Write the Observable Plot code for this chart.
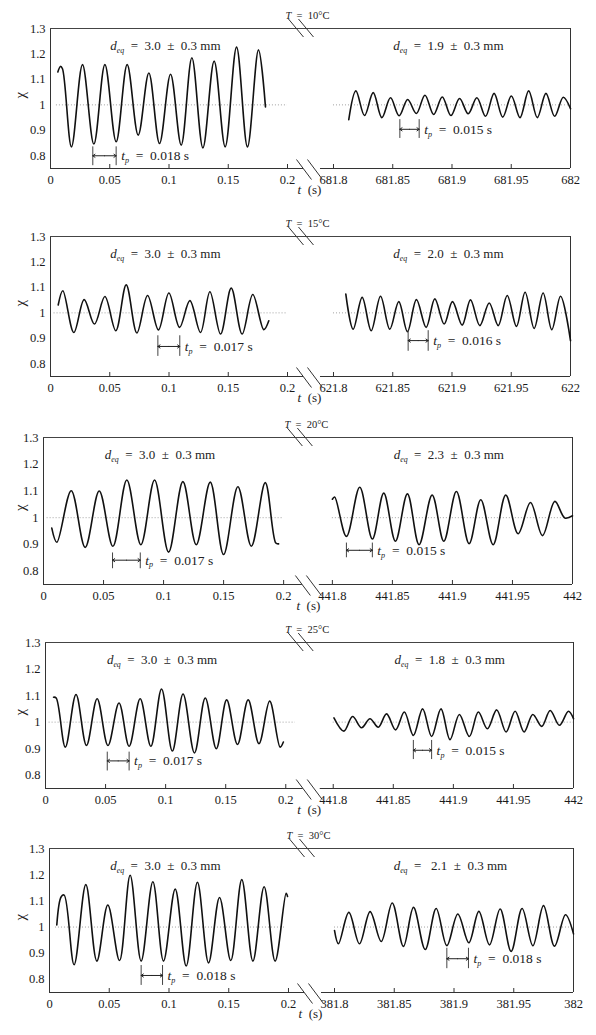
<!DOCTYPE html>
<html><head><meta charset="utf-8">
<script src="https://cdn.jsdelivr.net/npm/d3@7"></script>
<script src="https://cdn.jsdelivr.net/npm/@observablehq/plot@0.6"></script>
<style>
body{margin:0;background:#fff;}
#root{position:relative;width:596px;height:1035px;overflow:hidden;}
.panel{position:absolute;left:0;}
.panel svg, .panel svg text{font-family:'Liberation Serif','Times New Roman',serif;}
</style></head><body><div id="root"></div>
<script>
// ---------- data ----------
const temps = ["10", "15", "20", "25", "30"];
const rightBases = [681.8, 621.8, 441.8, 441.8, 381.8];
const deqLeft = ["3.0", "3.0", "3.0", "3.0", "3.0"];
const deqRight = ["1.9", "2.0", "2.3", "1.8", " 2.1"];
const tpLeft = ["0.018", "0.017", "0.017", "0.017", "0.018"];
const tpRight = ["0.015", "0.016", "0.015", "0.015", "0.018"];
const xTickOffsets = [0, 0.05, 0.1, 0.15, 0.2];
const yTickValues = [0.8, 0.9, 1, 1.1, 1.2, 1.3];

// t_p indicator: [bar1 t, bar2 t, chi low, chi high, arrow chi]
const tpLeftMarks = [
  [0.0357, 0.0554, 0.761, 0.835, 0.800],
  [0.0906, 0.1091, 0.829, 0.910, 0.868],
  [0.0575, 0.0806, 0.809, 0.868, 0.841],
  [0.0514, 0.0696, 0.816, 0.887, 0.854],
  [0.0767, 0.0946, 0.777, 0.853, 0.815]
];
const tpRightMarks = [
  [681.856, 681.8723, 0.868, 0.942, 0.904],
  [621.863, 621.8799, 0.849, 0.930, 0.891],
  [441.8117, 441.8333, 0.850, 0.905, 0.878],
  [441.8667, 441.8819, 0.859, 0.931, 0.894],
  [381.894, 381.9121, 0.841, 0.919, 0.879]
];
// dotted χ = 1 reference on the left segment [t start, t end]
const dotLeft = [[0.005, 0.2], [0.003, 0.2], [0.003, 0.2], [0.003, 0.208], [0.005, 0.197]];

// series [t (s), χ]
const p1Left = [[0.0062,1.129],[0.0084,1.151],[0.0101,1.142],[0.0177,0.835],[0.027,1.158],[0.0366,0.846],[0.0459,1.158],[0.0554,0.855],[0.0647,1.158],[0.074,0.881],[0.083,1.125],[0.092,0.848],[0.1013,1.12],[0.1103,0.842],[0.1193,1.185],[0.1286,0.831],[0.1381,1.172],[0.1474,0.835],[0.157,1.227],[0.1662,0.835],[0.1755,1.216],[0.1814,0.992]];
const p1Right = [[681.8129,0.942],[681.8189,1.055],[681.8262,0.958],[681.8335,1.048],[681.8408,0.950],[681.8481,1.028],[681.8554,0.957],[681.8626,1.021],[681.8699,0.966],[681.8772,1.038],[681.8845,0.962],[681.8918,1.031],[681.8991,0.958],[681.9064,1.025],[681.9137,0.965],[681.921,1.028],[681.9283,0.955],[681.9355,1.045],[681.9428,0.952],[681.9501,1.035],[681.9574,0.950],[681.9647,1.055],[681.972,0.950],[681.9793,1.045],[681.9866,0.955],[681.9939,1.030],[682.0,0.985]];
const p2Left = [[0.0065,1.031],[0.0104,1.087],[0.0197,0.923],[0.0284,1.052],[0.0371,0.956],[0.0459,1.064],[0.0551,0.930],[0.0639,1.110],[0.0729,0.921],[0.0819,1.068],[0.0911,0.933],[0.0999,1.078],[0.1089,0.943],[0.1176,1.048],[0.1266,0.923],[0.1345,1.083],[0.1435,0.917],[0.1525,1.097],[0.1617,0.917],[0.1707,1.072],[0.18,0.934],[0.1842,0.969]];
const p2Right = [[621.8104,1.074],[621.8166,0.936],[621.8242,1.061],[621.8318,0.930],[621.8397,1.065],[621.8475,0.936],[621.8551,1.044],[621.8624,0.926],[621.87,1.052],[621.8782,0.943],[621.8855,1.055],[621.8934,0.956],[621.9004,1.044],[621.9086,0.952],[621.9156,1.051],[621.9235,0.950],[621.9314,1.039],[621.939,0.950],[621.9466,1.068],[621.9544,0.947],[621.9617,1.081],[621.9693,0.939],[621.9769,1.078],[621.9842,0.934],[621.9916,1.065],[622.0,0.891]];
const p3Left = [[0.0069,0.961],[0.0111,0.908],[0.0231,1.101],[0.0347,0.889],[0.0464,1.100],[0.0578,0.893],[0.0694,1.141],[0.0811,0.899],[0.0925,1.141],[0.1042,0.871],[0.1161,1.135],[0.1272,0.899],[0.1389,1.133],[0.15,0.862],[0.1619,1.116],[0.1731,0.893],[0.1847,1.131],[0.1935,0.905],[0.1958,0.902]];
const p3Right = [[441.8,1.069],[441.8019,1.077],[441.8117,0.930],[441.8228,1.114],[441.8333,0.920],[441.8428,1.092],[441.8525,0.912],[441.8625,1.089],[441.8722,0.899],[441.8831,1.085],[441.8928,0.912],[441.9033,1.098],[441.9139,0.903],[441.9236,1.067],[441.9339,0.899],[441.9444,1.085],[441.9547,0.940],[441.965,1.057],[441.975,0.933],[441.9853,1.061],[441.9936,0.999],[442.0,1.007]];
const p4Left = [[0.0067,1.094],[0.0089,1.091],[0.0165,0.906],[0.0254,1.104],[0.0341,0.912],[0.043,1.088],[0.052,0.912],[0.0612,1.072],[0.0696,0.909],[0.0788,1.088],[0.0877,0.909],[0.0966,1.125],[0.1056,0.891],[0.1145,1.106],[0.124,0.884],[0.133,1.091],[0.1422,0.9],[0.1508,1.084],[0.1598,0.916],[0.1687,1.084],[0.1777,0.919],[0.1866,1.079],[0.1953,0.906],[0.198,0.925]];
const p4Right = [[441.8006,1.016],[441.8089,0.966],[441.8161,1.021],[441.8236,0.979],[441.8306,1.013],[441.8375,0.981],[441.8444,1.031],[441.8519,0.971],[441.8592,1.038],[441.8667,0.95],[441.8744,1.05],[441.8819,0.946],[441.8897,1.05],[441.8972,0.934],[441.905,1.029],[441.9133,0.946],[441.9208,1.038],[441.9283,0.975],[441.9361,1.046],[441.9439,0.963],[441.9514,1.041],[441.9589,0.963],[441.9661,1.029],[441.9736,0.984],[441.9806,1.044],[441.9883,0.988],[441.9958,1.041],[442.0,1.013]];
const p5Left = [[0.0061,1.008],[0.0098,1.116],[0.0123,1.122],[0.0206,0.856],[0.0304,1.162],[0.0396,0.870],[0.0488,1.084],[0.0586,0.872],[0.0675,1.198],[0.0767,0.870],[0.0865,1.173],[0.0954,0.870],[0.1052,1.145],[0.1144,0.851],[0.1238,1.171],[0.1331,0.863],[0.1423,1.113],[0.1517,0.872],[0.1609,1.181],[0.1702,0.870],[0.1796,1.154],[0.1888,0.870],[0.198,1.129],[0.1992,1.117]];
const p5Right = [[381.8,0.987],[381.8033,0.936],[381.812,1.056],[381.8209,0.936],[381.8298,1.059],[381.8391,0.945],[381.8483,1.092],[381.8577,0.926],[381.8661,1.075],[381.8759,0.914],[381.8851,1.071],[381.894,0.929],[381.9032,1.05],[381.9124,0.940],[381.9208,1.06],[381.9297,0.932],[381.9386,1.069],[381.9478,0.907],[381.957,1.071],[381.966,0.929],[381.9749,1.082],[381.9841,0.927],[381.9933,1.047],[382.0,0.974]];

const leftSeries = [p1Left, p2Left, p3Left, p4Left, p5Left];
const rightSeries = [p1Right, p2Right, p3Right, p4Right, p5Right];

// ---------- layout (page pixels of each frame) ----------
const layout = [
  {top: 28,  bottom: 168, left: 50, right: 570, gap: 0.2388},
  {top: 236, bottom: 376, left: 50, right: 570, gap: 0.2388},
  {top: 437, bottom: 584, left: 43, right: 572, gap: 0.2406},
  {top: 642, bottom: 788, left: 45, right: 573, gap: 0.2395},
  {top: 848, bottom: 992, left: 49, right: 573, gap: 0.2385}
];

const FONT = "Liberation Serif";
const INK = "#1a1a1a";
const SP = "\u2002";

function mathify(node) {
  const s = node.textContent;
  let m;
  const sel = d3.select(node);
  if ((m = s.match(/^(\w)_(\w+)(.*)$/))) {
    sel.text(null);
    sel.append("tspan").attr("font-style", "italic").text(m[1]);
    sel.append("tspan").attr("font-style", "italic").attr("font-size", "0.6em").attr("dy", 3).text(m[2]);
    sel.append("tspan").attr("dy", -3).text(m[3]);
  } else if (/^t\u2002\(s\)$/.test(s) || /^T\u2002=/.test(s)) {
    sel.text(null);
    sel.append("tspan").attr("font-style", "italic").text(s[0]);
    sel.append("tspan").text(s.slice(1));
  }
}

const root = document.getElementById("root");

layout.forEach((g, i) => {
  const mT = 30, mB = 40;
  const H = g.bottom - g.top;
  const gap = g.gap, base = rightBases[i];
  const toV = t => gap + (t - base);
  const xMax = gap + 0.2;
  const k = (g.right - g.left) / xMax;
  const yPx = 0.55 / H;

  const ticks = [
    ...xTickOffsets.map(v => ({v, label: String(v)})),
    ...xTickOffsets.map(v => ({v: gap + v, label: String(+(base + v).toFixed(2))}))
  ];
  const fmt = new Map(ticks.map(d => [d.v, d.label]));

  const tl = tpLeftMarks[i], tr = tpRightMarks[i];
  const ind = [
    {a: tl[0], b: tl[1], lo: tl[2], hi: tl[3], y: tl[4], s: "t_p" + SP + "=" + SP + tpLeft[i] + " s"},
    {a: toV(tr[0]), b: toV(tr[1]), lo: tr[2], hi: tr[3], y: tr[4], s: "t_p" + SP + "=" + SP + tpRight[i] + " s"}
  ];
  const bars = ind.flatMap(d => [{x: d.a, lo: d.lo, hi: d.hi}, {x: d.b, lo: d.lo, hi: d.hi}]);
  const arrows = ind.flatMap(d => {
    const mid = (d.a + d.b) / 2;
    return [{x1: mid, x2: d.a, y: d.y}, {x1: mid, x2: d.b, y: d.y}];
  });
  const deq = [
    {x: 0.097, s: "d_eq" + SP + "=" + SP + deqLeft[i] + SP + "±" + SP + "0.3 mm"},
    {x: gap + 0.097, s: "d_eq" + SP + "=" + SP + deqRight[i] + SP + "±" + SP + "0.3 mm"}
  ];
  const bottomGapA = gap - 30 / k, bottomGapB = gap - 13 / k;

  const plot = Plot.plot({
    width: 596,
    height: mT + H + mB,
    marginTop: mT, marginBottom: mB, marginLeft: g.left, marginRight: 596 - g.right,
    style: {background: "none", overflow: "visible", fontFamily: FONT, color: INK},
    x: {domain: [0, xMax], axis: null},
    y: {domain: [0.75, 1.3], axis: null},
    marks: [
      // dotted χ = 1 references
      Plot.ruleY([1], {x1: dotLeft[i][0], x2: dotLeft[i][1], stroke: "#999", strokeDasharray: "1,2", strokeWidth: 0.9}),
      Plot.ruleY([1], {x1: gap, x2: gap + 0.2, stroke: "#999", strokeDasharray: "1,2", strokeWidth: 0.9}),
      // frame
      Plot.ruleX([0], {stroke: "#333"}),
      Plot.ruleX([xMax], {stroke: "#333"}),
      Plot.ruleY([1.3], {stroke: "#444", strokeWidth: 1.1}),
      Plot.ruleY([0.75], {x1: 0, x2: bottomGapA, stroke: "#333"}),
      Plot.ruleY([0.75], {x1: bottomGapB, x2: xMax, stroke: "#333"}),
      // inward x ticks
      Plot.ruleX(ticks, {x: "v", y1: 0.75, y2: 0.75 + 4 * yPx, stroke: "#333"}),
      Plot.axisX({ticks: ticks.map(d => d.v), tickFormat: d => fmt.get(d), tickSize: 0, tickPadding: 7, label: null, fontSize: 12.5, fontFamily: FONT}),
      Plot.axisY({ticks: yTickValues, tickFormat: d => String(d), tickSize: 0, tickPadding: 5, label: null, fontSize: 12.5, fontFamily: FONT}),
      // series
      Plot.line(leftSeries[i], {x: d => d[0], y: d => d[1], curve: "catmull-rom", stroke: "#111", strokeWidth: 1.6}),
      Plot.line(rightSeries[i], {x: d => toV(d[0]), y: d => d[1], curve: "catmull-rom", stroke: "#111", strokeWidth: 1.6}),
      // t_p indicators
      Plot.ruleX(bars, {x: "x", y1: "lo", y2: "hi", stroke: "#444", strokeWidth: 1}),
      Plot.arrow(arrows, {x1: "x1", x2: "x2", y1: "y", y2: "y", headLength: 4, headAngle: 70, stroke: "#222", strokeWidth: 1}),
      Plot.text(ind, {x: "b", y: "y", text: "s", textAnchor: "start", dx: 5, fontSize: 13.5, fill: "#222", fontFamily: FONT}),
      // d_eq labels
      Plot.text(deq, {x: "x", frameAnchor: "top", dy: 12, text: "s", fontSize: 13, fill: "#222", fontFamily: FONT}),
      // temperature label
      Plot.text(["T" + SP + "=" + SP + temps[i] + "°C"], {x: gap - 26 / k, frameAnchor: "top", lineAnchor: "bottom", dy: -10, text: d => d, fontSize: 10.5, fill: "#222", fontFamily: FONT}),
      // axis titles
      Plot.text(["t" + SP + "(s)"], {x: gap - 24 / k, frameAnchor: "bottom", dy: 25, text: d => d, fontSize: 13, fill: "#222", fontFamily: FONT}),
      Plot.text(["χ"], {frameAnchor: "left", dx: 20 - g.left, rotate: -90, text: d => d, fontSize: 15, fill: "#222", fontFamily: FONT})
    ]
  });

  // break marks
  const svg = d3.select(plot);
  const xr = plot.scale("x").apply(gap);
  const yTop = mT, yBot = mT + H;
  const slashes = [[xr - 37, yTop, 9], [xr - 27, yTop, 9], [xr - 29, yBot + 1.5, 10], [xr - 18, yBot + 1.5, 10]];
  for (const [cx, cy, hh] of slashes) {
    svg.append("line").attr("x1", cx - 7.5).attr("y1", cy - hh).attr("x2", cx + 7.5).attr("y2", cy + hh)
      .attr("stroke", "#333").attr("stroke-width", 1);
  }
  svg.selectAll("text").each(function () { mathify(this); });

  const div = document.createElement("div");
  div.className = "panel";
  div.style.top = (g.top - mT) + "px";
  div.appendChild(plot);
  root.appendChild(div);
});
</script>
</body></html>
